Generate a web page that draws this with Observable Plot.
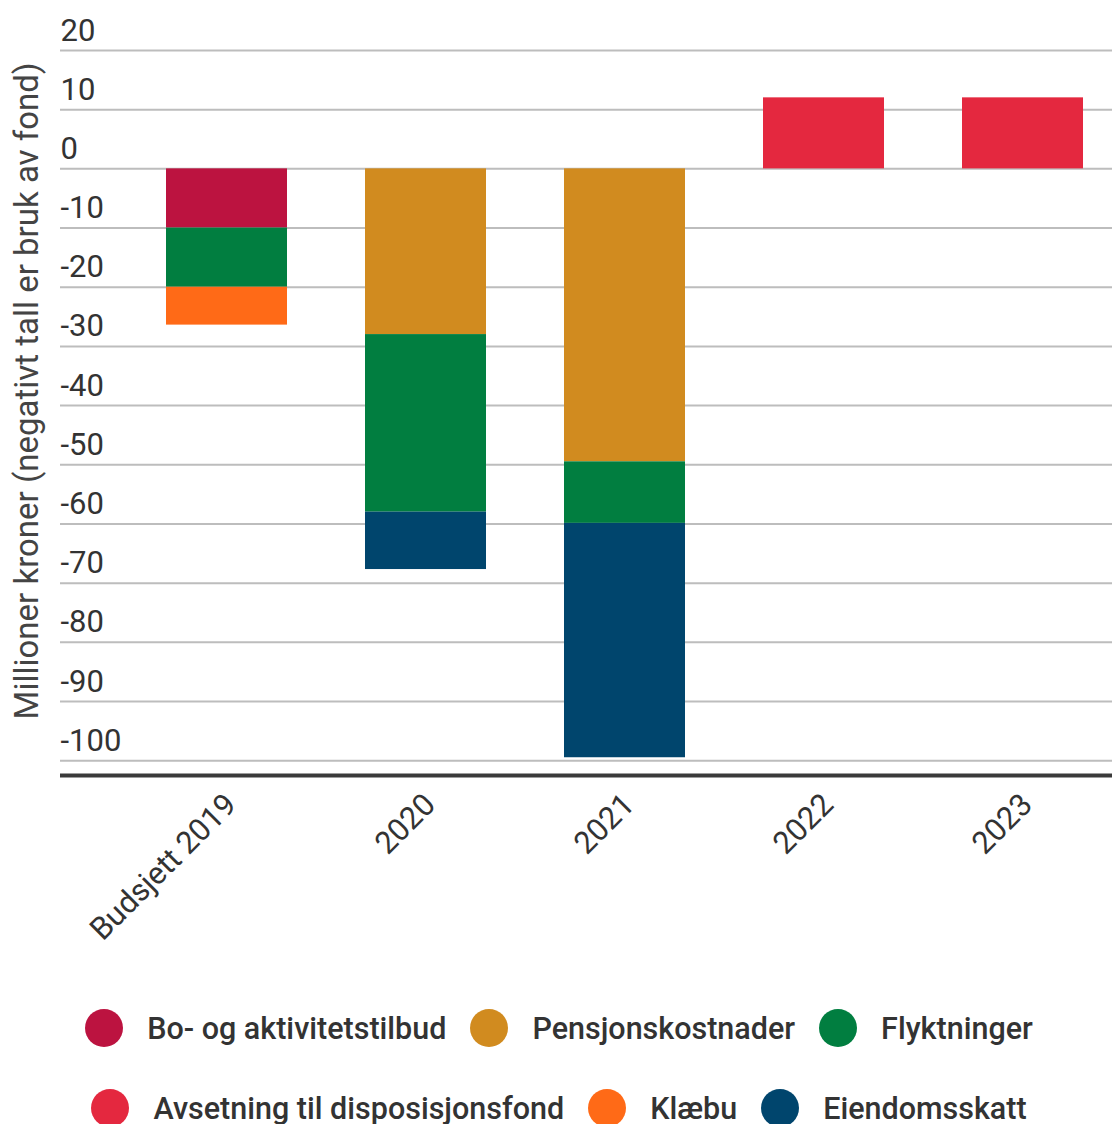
<!DOCTYPE html>
<html>
<head>
<meta charset="utf-8">
<script src="https://cdn.jsdelivr.net/npm/d3@7"></script>
<script src="https://cdn.jsdelivr.net/npm/@observablehq/plot@0.6"></script>
<style>
  body { margin: 0; background: #fff; font-family: Roboto, sans-serif; }
  #chart svg { display: block; }
  #legend { display: flex; flex-direction: column; align-items: center; padding-top: 49px; padding-left: 6px; row-gap: 42px;
            font: 500 30.5px Roboto, sans-serif; color: #333; }
  .row { display: flex; align-items: center; column-gap: 24px; }
  .item { display: flex; align-items: center; gap: 24px; white-space: nowrap; }
  .sw { width: 38px; height: 38px; border-radius: 50%; flex: none; }
</style>
</head>
<body>
<div id="chart"></div>
<div id="legend"></div>
<script>
// ---- data ----
const categories = ["Budsjett 2019", "2020", "2021", "2022", "2023"];
const series = ["Bo- og aktivitetstilbud", "Pensjonskostnader", "Flyktninger",
                "Avsetning til disposisjonsfond", "Klæbu", "Eiendomsskatt"];
const colors = ["#bc1340", "#d18b1f", "#017e40", "#e4283f", "#ff6a17", "#00456d"];
const boOgAktivitetstilbud = [-10, 0, 0, 0, 0];
const pensjonskostnader    = [0, -28, -49.5, 0, 0];
const flyktninger          = [-10, -30, -10.4, 0, 0];
const avsetning            = [0, 0, 0, 12, 12];
const klaebu               = [-6.4, 0, 0, 0, 0];
const eiendomsskatt        = [0, -9.7, -39.6, 0, 0];
const yTicks = [20, 10, 0, -10, -20, -30, -40, -50, -60, -70, -80, -90, -100];
const yMin = -102.5, yMax = 20;
const yLabel = "Millioner kroner (negativt tall er bruk av fond)";

const valuesBySeries = [boOgAktivitetstilbud, pensjonskostnader, flyktninger, avsetning, klaebu, eiendomsskatt];
const data = [];
series.forEach((s, i) => categories.forEach((c, j) => {
  const v = valuesBySeries[i][j];
  if (v !== 0) data.push({category: c, series: s, value: v});
}));

const chart = Plot.plot({
  width: 1112, height: 960,
  marginTop: 50, marginLeft: 60, marginRight: 0, marginBottom: 185,
  style: {fontFamily: "Roboto, sans-serif", fontSize: "31px", color: "#333", background: "white"},
  x: {domain: categories, paddingInner: 0.39, paddingOuter: 0.334, align: 0.79, label: null},
  y: {domain: [yMin, yMax], axis: null},
  color: {domain: series, range: colors},
  marks: [
    Plot.ruleY(yTicks, {stroke: "#bdbdbd", strokeWidth: 2}),
    Plot.barY(data, {x: "category", y: "value", fill: "series", order: series}),
    Plot.ruleY([yMin], {stroke: "#3a3a3a", strokeWidth: 4}),
    Plot.text(yTicks, {y: d => d, text: d => String(d), frameAnchor: "left", textAnchor: "start",
                       lineAnchor: "bottom", dy: -10, fill: "#333", fontSize: 31}),
    Plot.axisX({tickSize: 0, tickRotate: -45, tickPadding: 24, dx: 4, fontSize: 31, fill: "#333", label: null})
  ]
});

const svg = d3.select(chart);
svg.append("text")
  .attr("transform", "translate(38,391) rotate(-90)")
  .attr("text-anchor", "middle")
  .attr("fill", "#444")
  .style("font-size", "33px")
  .text(yLabel);

document.getElementById("chart").appendChild(chart);

// ---- legend ----
const legend = d3.select("#legend");
const rows = [series.slice(0, 3), series.slice(3)];
rows.forEach(r => {
  const row = legend.append("div").attr("class", "row");
  r.forEach(s => {
    const it = row.append("div").attr("class", "item");
    it.append("span").attr("class", "sw").style("background", colors[series.indexOf(s)]);
    it.append("span").text(s);
  });
});
</script>
</body>
</html>
